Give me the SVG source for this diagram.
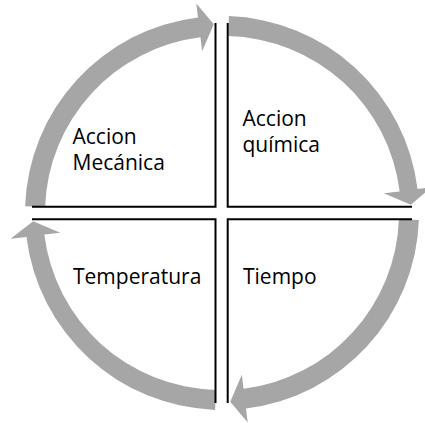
<svg xmlns="http://www.w3.org/2000/svg" width="425" height="423" viewBox="0 0 425 423">
<style>
.arc{fill:#a6a6a6;stroke:none}
.edge{fill:none;stroke:#000;stroke-width:2}
.lbl{font-family:"Open Sans","Liberation Sans",sans-serif;font-size:21px;fill:#000}
</style>
<rect width="425" height="423" fill="#fff"/>
<g id="connectors">
<path class="arc" d="M25.12,206.13 A197,197 0 0 1 197.99,17.47 L196.29,3.57 L213.76,24.18 L202.14,51.22 L200.43,37.32 A177,177 0 0 0 45.11,206.82 Z"/>
<path class="arc" d="M228.88,16.12 A197,197 0 0 1 417.53,188.99 L431.43,187.29 L410.82,204.76 L383.78,193.14 L399.68,191.43 A177,177 0 0 0 228.18,36.11 Z"/>
<path class="arc" d="M418.88,219.88 A197,197 0 0 1 246.01,408.53 L247.71,422.43 L230.24,401.82 L241.86,374.78 L243.57,388.68 A177,177 0 0 0 398.89,219.18 Z"/>
<path class="arc" d="M215.13,409.88 A197,197 0 0 1 26.47,237.01 L10.57,238.71 L33.18,221.24 L60.22,232.86 L44.32,234.57 A177,177 0 0 0 215.82,389.89 Z"/>
</g>
<g id="node-mecanica">
<path class="edge" d="M32,206.7 H215.5 V23"/>
<text class="lbl" x="72.5" y="144">Accion</text>
<text class="lbl" x="72.5" y="170">Mecánica</text>
</g>
<g id="node-quimica">
<path class="edge" d="M227.7,23 V206.7 H412"/>
<text class="lbl" x="242.5" y="126">Accion</text>
<text class="lbl" x="242.5" y="152">química</text>
</g>
<g id="node-tiempo">
<path class="edge" d="M412,219.3 H227.7 V403"/>
<text class="lbl" x="243" y="283.5">Tiempo</text>
</g>
<g id="node-temperatura">
<path class="edge" d="M32,219.3 H215.5 V403"/>
<text class="lbl" x="73" y="283.5">Temperatura</text>
</g>
</svg>
